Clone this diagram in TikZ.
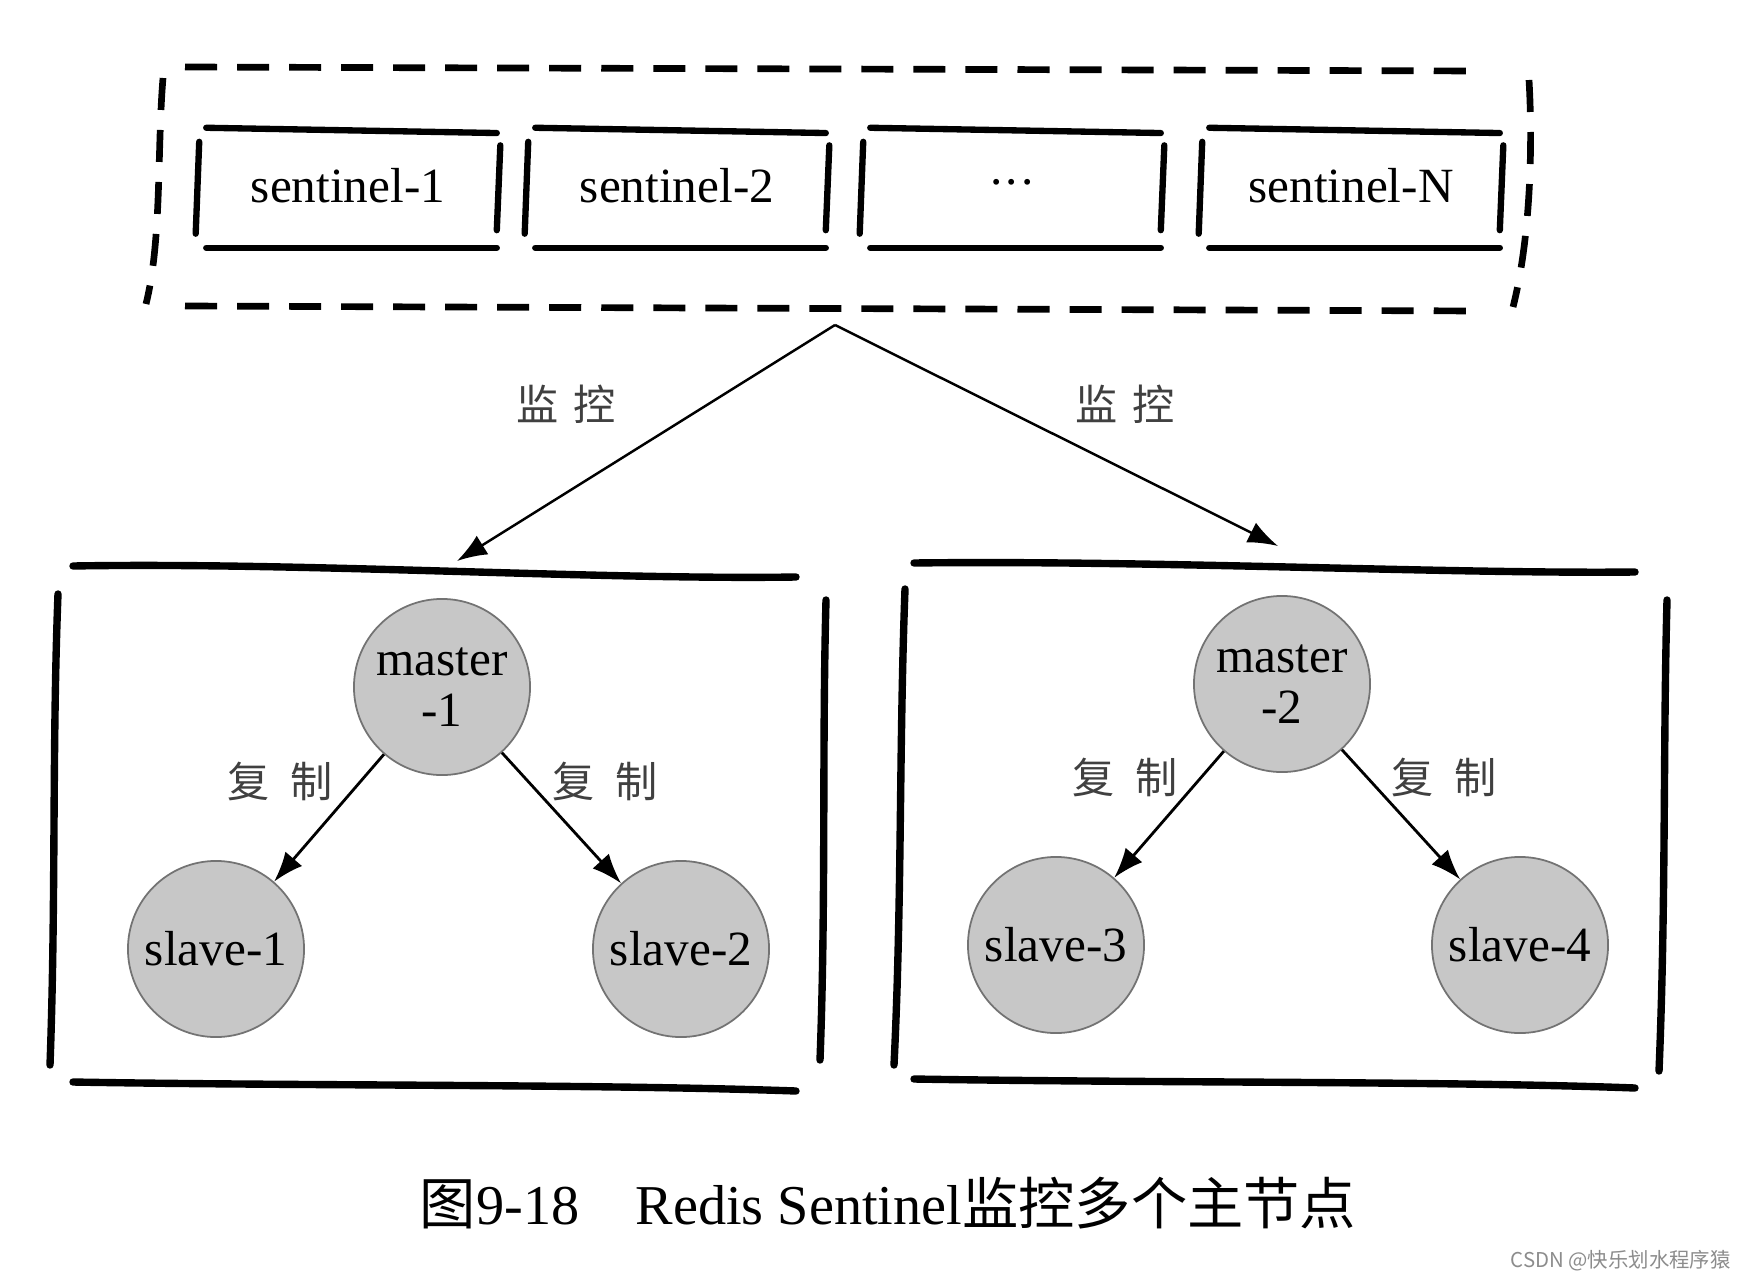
\documentclass[tikz,border=0pt]{standalone}
\usepackage{fontspec}
\setmainfont{Liberation Serif}
\newfontfamily\cjk{Noto Sans CJK SC}
\usetikzlibrary{arrows.meta,calc,positioning}
\tikzset{
  sent/.style={minimum width=2.96cm,minimum height=1.15cm,inner sep=0pt,font=\fontsize{14}{16}\selectfont},
  host/.style={circle,draw=black!55,fill=black!22,line width=0.5pt,minimum size=1.76cm,inner sep=0pt,align=center,font=\fontsize{14}{14.6}\selectfont},
  pen/.style={line width=1.8pt,line cap=round},
  boxpen/.style={line width=2.1pt,line cap=round},
  dashpen/.style={line width=1.9pt,dash pattern=on 0.32cm off 0.2cm},
  watch/.style={-{Latex[length=3mm,width=2.2mm]},line width=0.7pt},
  repl/.style={-{Latex[length=3mm,width=2.2mm]},line width=0.8pt},
  lbl/.style={font=\cjk\fontsize{12}{14}\selectfont,text=black!75},
}

\begin{document}
\begin{tikzpicture}[x=0.01cm,y=0.01cm]
  \useasboundingbox (0,0) rectangle (1758,-1282);

  % sentinel group (dashed hand-drawn frame)
  \draw[dashpen] (185,-67)  -- (1480,-71);
  \draw[dashpen] (185,-306) -- (1480,-311);
  \draw[dashpen] (163,-78)  .. controls (157,-150) and (162,-240) .. (146,-304);
  \draw[dashpen] (1529,-80) .. controls (1533,-150) and (1530,-240) .. (1513,-307);

  \node[sent] (s1) at (348,-186)  {sentinel-1};
  \node[sent] (s2) at (677,-186)  {sentinel-2};
  \node[sent] (s3) at (1012,-186) {\raisebox{0.35ex}{.\kern1pt.\kern1pt.}};
  \node[sent] (sN) at (1351,-186) {sentinel-N};
  \foreach \n in {s1,s2,s3,sN}{
    \draw[pen] ([xshift=2pt]\n.north west) -- ([yshift=-1.5pt]\n.north east);
    \draw[pen] ([yshift=-4pt]\n.north west) -- ([xshift=-1pt,yshift=3pt]\n.south west);
    \draw[pen] ([xshift=2pt,yshift=-1pt]\n.south west) -- ([yshift=-1pt]\n.south east);
    \draw[pen] ([xshift=1pt,yshift=-5pt]\n.north east) -- ([yshift=4pt]\n.south east);
  }

  % monitoring arrows
  \coordinate (apex) at (835,-325);
  \coordinate (t1) at (457,-561);
  \coordinate (t2) at (1278,-546);
  \draw[watch] (apex) -- (t1);
  \draw[watch] (apex) -- (t2);
  \node[lbl] (w1) at (566,-404)  {监\hspace{4pt}控};
  \node[lbl] (w2) at (1125,-404) {监\hspace{4pt}控};

  % cluster 1
  \draw[boxpen] (73,-566) .. controls (300,-562) and (600,-580) .. (796,-577);
  \draw[boxpen] (58,-594) .. controls (52,-750) and (56,-900) .. (50,-1065);
  \draw[boxpen] (826,-600) .. controls (822,-750) and (826,-900) .. (820,-1060);
  \draw[boxpen] (73,-1082) .. controls (300,-1086) and (600,-1084) .. (796,-1091);

  \node[host] (m1)  at (442,-687) {master\\-1};
  \node[host] (sl1) at (216,-949) {slave-1};
  \node[host] (sl2) at (681,-949) {slave-2};
  \draw[repl] (m1) -- (sl1);
  \draw[repl] (m1) -- (sl2);
  \node[lbl] (r1) at (280,-781) {复\hspace{6pt}制};
  \node[lbl] (r2) at (605,-781) {复\hspace{6pt}制};

  % cluster 2
  \draw[boxpen] (914,-563) .. controls (1150,-560) and (1450,-574) .. (1635,-572);
  \draw[boxpen] (905,-589) .. controls (899,-750) and (902,-900) .. (894,-1065);
  \draw[boxpen] (1667,-600) .. controls (1663,-750) and (1666,-900) .. (1659,-1071);
  \draw[boxpen] (914,-1079) .. controls (1150,-1083) and (1450,-1081) .. (1635,-1088);

  \node[host] (m2)  at (1282,-684) {master\\-2};
  \node[host] (sl3) at (1056,-945) {slave-3};
  \node[host] (sl4) at (1520,-945) {slave-4};
  \draw[repl] (m2) -- (sl3);
  \draw[repl] (m2) -- (sl4);
  \node[lbl] (r3) at (1125,-777) {复\hspace{6pt}制};
  \node[lbl] (r4) at (1444,-777) {复\hspace{6pt}制};

  % caption
  \node[font=\fontsize{16}{18}\selectfont] (cap) at (888,-1203)
    {{\cjk 图}9-18\quad Redis Sentinel{\cjk 监控多个主节点}};
  \node[font=\cjk\fontsize{5.8}{7}\selectfont,text=black!45,anchor=east] (wm) at (1743,-1261)
    {CSDN @快乐划水程序猿};

\end{tikzpicture}
\end{document}
